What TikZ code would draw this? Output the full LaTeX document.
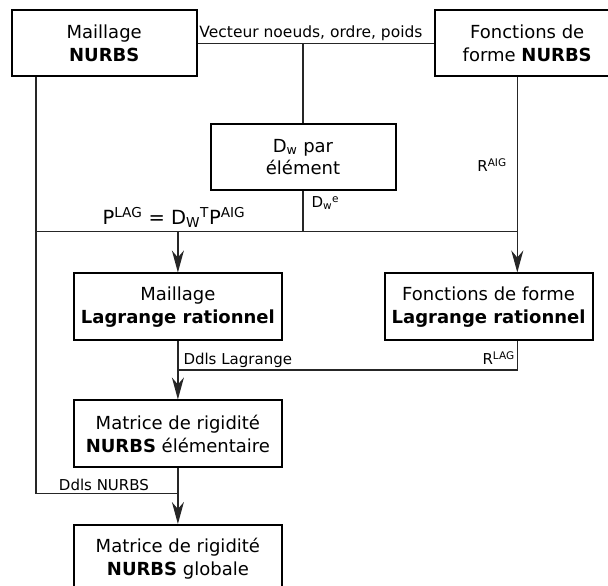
\documentclass[tikz,border=0pt]{standalone}
\usepackage{fontspec}
\setmainfont{DejaVu Sans}
\usetikzlibrary{positioning, arrows.meta}

\begin{document}
\begin{tikzpicture}[x=1pt, y=1pt]
    \tikzset{boite/.style={draw, line width=2pt, align=center, minimum width=185pt, minimum height=66pt, inner sep=2pt, font=\fontsize{18}{22.5}\selectfont},
             large/.style={boite, minimum width=208pt, minimum height=67pt},
             lien/.style={line width=1.2pt, draw=black!85},
             fleche/.style={lien, -{Stealth[length=22pt, width=12pt, inset=7pt]}},
             etiq/.style={font=\fontsize{15}{18}\selectfont, inner sep=2pt}}

    \useasboundingbox (0,0) rectangle (608,586);

    \draw node[boite] (maillnurbs) at (104.2,542.7) {Maillage\\\textbf{NURBS}};
    \draw node[boite, right=236pt of maillnurbs] (fctnurbs) {Fonctions de\\forme \textbf{NURBS}};
    \draw node[boite] (dwelem) at (303,429) {D\textsubscript{w} par\\élément};
    \draw node[large] (mailllag) at (177.9,279) {Maillage\\\textbf{Lagrange rationnel}};
    \draw node[large, right=100.7pt of mailllag] (fctlag) {Fonctions de forme\\\textbf{Lagrange rationnel}};
    \draw node[large, below=58pt of mailllag] (matelem) {Matrice de rigidité\\\textbf{NURBS} élémentaire};
    \draw node[large, below=55.5pt of matelem] (matglob) {Matrice de rigidité\\\textbf{NURBS} globale};

    \coordinate (gauche) at (36,92.3);
    \coordinate (bus) at (303,354.3);
    \coordinate (droite) at (517.3,216);

    \draw[lien] (maillnurbs.east) -- node[above, etiq, pos=0.48, font=\fontsize{15.5}{18}\selectfont] {Vecteur noeuds, ordre, poids} (fctnurbs.west);
    \draw[lien] (dwelem.north) -- (dwelem.north |- maillnurbs.east);
    \draw[lien] (dwelem.south) -- node[pos=0, anchor=north west, etiq, xshift=6pt, yshift=-3pt] {D\textsubscript{w}\textsuperscript{e}} (bus);
    \draw[lien] (bus -| gauche) -- (bus -| droite);
    \draw[lien] (maillnurbs.south -| gauche) -- (gauche) -- node[midway, above, etiq, xshift=-3pt] {Ddls NURBS} (gauche -| matelem.south);
    \draw[fleche] (fctnurbs.south -| droite) -- node[pos=0.45, left=8pt, etiq] {R\textsuperscript{AIG}} (fctlag.north -| droite);
    \draw[fleche] (bus -| mailllag.north) node[above=0pt, xshift=-4pt, font=\fontsize{19.5}{22}\selectfont] {P\textsuperscript{LAG} = D\textsubscript{W}\textsuperscript{T}P\textsuperscript{AIG}} -- (mailllag.north);
    \draw[lien] (fctlag.south -| droite) -- (droite) node[above left, etiq, yshift=3pt] {R\textsuperscript{LAG}} -- node[at end, above right, etiq, xshift=3pt] {Ddls Lagrange} (droite -| mailllag.south);
    \draw[fleche] (mailllag.south) -- (matelem.north);
    \draw[fleche] (matelem.south) -- (matglob.north);
\end{tikzpicture}
\end{document}
